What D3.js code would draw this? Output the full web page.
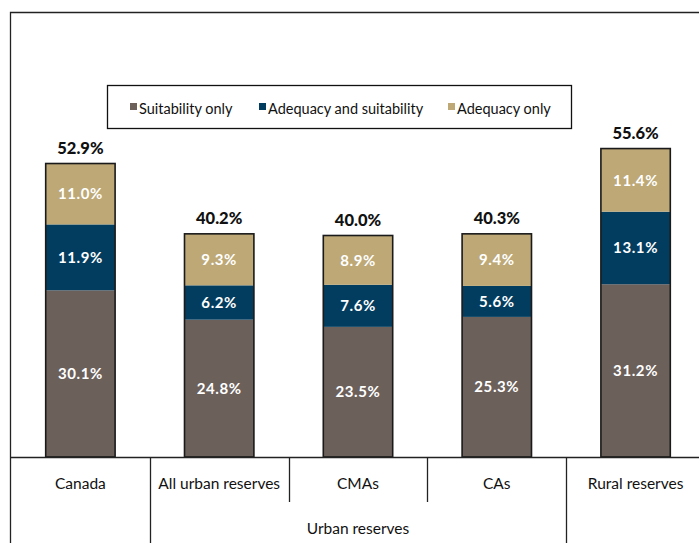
<!DOCTYPE html>
<html>
<head>
<meta charset="utf-8">
<script src="https://cdn.jsdelivr.net/npm/d3@7"></script>
<style>
  body { margin: 0; background: #fff; }
  svg { display: block; font-family: Lato, "Open Sans", sans-serif; }
</style>
</head>
<body>
<script>
// chart values
var categories = ["Canada", "All urban reserves", "CMAs", "CAs", "Rural reserves"];
var suitabilityOnly = [30.1, 24.8, 23.5, 25.3, 31.2];
var adequacyAndSuitability = [11.9, 6.2, 7.6, 5.6, 13.1];
var adequacyOnly = [11.0, 9.3, 8.9, 9.4, 11.4];
var totals = [52.9, 40.2, 40.0, 40.3, 55.6];
var seriesNames = ["Suitability only", "Adequacy and suitability", "Adequacy only"];
var groupLabel = "Urban reserves";

var colors = ["#6c605b", "#023d5f", "#bda876"];

var width = 699, height = 543;
var axisY = 457;

var svg = d3.select("body").append("svg")
    .attr("width", width)
    .attr("height", height);

// build rows for the stack
var rows = categories.map(function(c, i) {
  return {
    cat: c,
    s0: suitabilityOnly[i],
    s1: adequacyAndSuitability[i],
    s2: adequacyOnly[i],
    total: totals[i]
  };
});

var x = d3.scaleBand()
    .domain(categories)
    .range([11, 705])
    .paddingInner(0.5)
    .paddingOuter(0.25);

var y = d3.scaleLinear()
    .domain([0, 80])
    .range([axisY, 14]);

var stack = d3.stack().keys(["s0", "s1", "s2"]);
var series = stack(rows);

// outer frame (left + top)
svg.append("path")
    .attr("d", "M10.5," + height + "V12.5H" + width)
    .attr("fill", "none")
    .attr("stroke", "#222")
    .attr("stroke-width", 1.3);

// segments
svg.selectAll("g.layer")
  .data(series)
  .join("g")
    .attr("class", "layer")
    .attr("fill", function(d, i) { return colors[i]; })
  .selectAll("rect")
  .data(function(d) { return d; })
  .join("rect")
    .attr("x", function(d) { return x(d.data.cat); })
    .attr("width", x.bandwidth())
    .attr("y", function(d) { return y(d[1]); })
    .attr("height", function(d) { return y(d[0]) - y(d[1]); });

// bar outlines
var topLayer = series[series.length - 1];
svg.selectAll("rect.outline")
  .data(topLayer)
  .join("rect")
    .attr("class", "outline")
    .attr("x", function(d) { return x(d.data.cat); })
    .attr("width", x.bandwidth())
    .attr("y", function(d) { return y(d[1]); })
    .attr("height", function(d) { return axisY - y(d[1]); })
    .attr("fill", "none")
    .attr("stroke", "#1a1a1a")
    .attr("stroke-width", 1.6);

// segment labels
series.forEach(function(s) {
  svg.selectAll(null)
    .data(s)
    .join("text")
      .attr("x", function(d) { return x(d.data.cat) + x.bandwidth() / 2; })
      .attr("y", function(d) { return (y(d[0]) + y(d[1])) / 2; })
      .attr("dy", "0.36em")
      .attr("text-anchor", "middle")
      .attr("fill", "#fff")
      .attr("font-weight", "bold")
      .attr("font-size", "15px")
      .attr("letter-spacing", "0.6px")
      .text(function(d) { return (d[1] - d[0]).toFixed(1) + "%"; });
});

// totals
svg.selectAll("text.total")
  .data(topLayer)
  .join("text")
    .attr("class", "total")
    .attr("x", function(d) { return x(d.data.cat) + x.bandwidth() / 2; })
    .attr("y", function(d) { return y(d[1]) - 10; })
    .attr("text-anchor", "middle")
    .attr("fill", "#111")
    .attr("font-weight", "900")
    .attr("font-size", "16.5px")
    .text(function(d) { return d.data.total.toFixed(1) + "%"; });

// category axis line
svg.append("line")
    .attr("x1", 10).attr("x2", width)
    .attr("y1", axisY + 0.5).attr("y2", axisY + 0.5)
    .attr("stroke", "#222")
    .attr("stroke-width", 1.3);

// separators between categories
var step = x.step();
var bounds = categories.map(function(c) { return x(c) - step * 0.25; }).slice(1);
bounds.forEach(function(bx, i) {
  var inner = (i === 1 || i === 2);
  svg.append("line")
    .attr("x1", Math.round(bx) + 0.5).attr("x2", Math.round(bx) + 0.5)
    .attr("y1", axisY)
    .attr("y2", inner ? 502 : height)
    .attr("stroke", "#222")
    .attr("stroke-width", 1.3);
});

// category labels
svg.selectAll("text.cat")
  .data(categories)
  .join("text")
    .attr("class", "cat")
    .attr("x", function(d) { return x(d) + x.bandwidth() / 2; })
    .attr("y", 489)
    .attr("text-anchor", "middle")
    .attr("fill", "#111")
    .attr("font-size", "15.5px")
    .text(function(d) { return d; });

// group label under urban reserves
var gx0 = bounds[0], gx1 = bounds[3];
svg.append("text")
    .attr("x", (gx0 + gx1) / 2)
    .attr("y", 534)
    .attr("text-anchor", "middle")
    .attr("fill", "#111")
    .attr("font-size", "15.5px")
    .text(groupLabel);

// legend
var legend = svg.append("g");
legend.append("rect")
    .attr("x", 107.5).attr("y", 85.5)
    .attr("width", 464).attr("height", 43)
    .attr("fill", "#fff")
    .attr("stroke", "#111")
    .attr("stroke-width", 1.3);

var legendX = [130, 259, 448];
seriesNames.forEach(function(name, i) {
  legend.append("rect")
      .attr("x", legendX[i]).attr("y", 103)
      .attr("width", 7).attr("height", 7)
      .attr("fill", colors[i]);
  legend.append("text")
      .attr("x", legendX[i] + 9)
      .attr("y", 114)
      .attr("fill", "#111")
      .attr("font-size", "14.5px")
      .text(name);
});
</script>
</body>
</html>
